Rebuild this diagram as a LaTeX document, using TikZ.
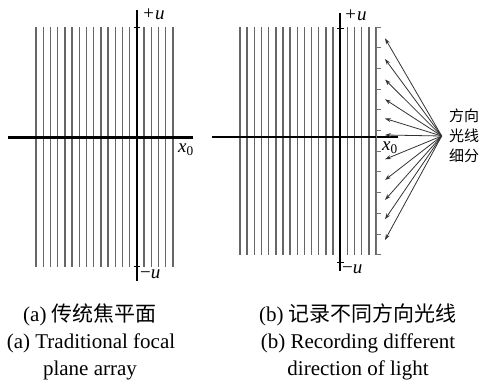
\documentclass[tikz,border=0pt]{standalone}
\usepackage{fontspec}
\setmainfont{Liberation Serif}
\newfontfamily\cjk{Noto Sans CJK SC}
\usetikzlibrary{arrows.meta}
\begin{document}
\begin{tikzpicture}[x=1pt,y=-1pt,
  gridline/.style={draw=black!60,line width=1.4pt},
  axisline/.style={draw=black,line width=2.1pt},
  tickline/.style={draw=black,line width=1pt},
  brk/.style={draw=black!55,line width=0.9pt},
  ray/.style={draw=black!80,line width=0.8pt,-{Stealth[length=6pt,width=4pt]}},
  axlabel/.style={font=\fontsize{19}{19}\selectfont\itshape,inner sep=0pt},
  captext/.style={font=\fontsize{21}{21}\selectfont,inner sep=0pt,anchor=center},
  side/.style={font=\fontsize{15}{20}\selectfont\cjk,inner sep=0pt,align=left}]
\useasboundingbox (0,0) rectangle (483,388);
% ---------- panel (a)
\foreach \k in {0,...,13,15,16,17,18,19}
  \draw[gridline] (36+7.2*\k,27) -- (36+7.2*\k,267);
\coordinate (aL) at (8,137.5);
\coordinate (aR) at (193,137.5);
\coordinate (aT) at (136.8,10);
\coordinate (aB) at (136.8,281);
\draw[axisline] (aL) -- (aR);
\draw[axisline] (aT) -- (aB);
\coordinate (at1) at (133.5,27); \coordinate (at2) at (140.1,27);
\coordinate (ab1) at (133.5,266); \coordinate (ab2) at (140.1,266);
\draw[tickline] (at1) -- (at2);
\draw[tickline] (ab1) -- (ab2);
\node[axlabel,anchor=west] (apu) at (142,14) {+u};
\node[axlabel,anchor=west] (amu) at (140,274) {\textup{−}u};
\node[axlabel,anchor=west] (ax0) at (178,150) {x\textsubscript{\upshape 0}};
% ---------- panel (b)
\foreach \k in {0,...,13,15,16,17,18,19}
  \draw[gridline] (240+7.16*\k,27) -- (240+7.16*\k,255);
\coordinate (bL) at (212,137);
\coordinate (bR) at (398,137);
\coordinate (bT) at (340.3,13);
\coordinate (bB) at (340.3,271);
\draw[axisline] (bL) -- (bR);
\draw[axisline] (bT) -- (bB);
\coordinate (bt1) at (337,28); \coordinate (bt2) at (343.6,28);
\coordinate (bb1) at (337,262); \coordinate (bb2) at (343.6,262);
\draw[tickline] (bt1) -- (bt2);
\draw[tickline] (bb1) -- (bb2);
\node[axlabel,anchor=west] (bpu) at (344,15) {+u};
\node[axlabel,anchor=west] (bmu) at (342,269) {\textup{−}u};
\node[axlabel,anchor=west] (bx0) at (382,148) {x\textsubscript{\upshape 0}};
% bracket with ticks
\coordinate (brT) at (376,27);
\coordinate (brB) at (376,254.7);
\draw[brk] (brT) -- (brB);
\foreach \j in {0,...,11}
  \draw[brk] (376,27+20.7*\j) -- (381,27+20.7*\j);
% rays
\coordinate (hub) at (441.7,136);
\foreach \yy [count=\i] in {38.3,59,79.5,99.3,118.5,135,159.3,180,200,219.3,240}
  \coordinate (t\i) at (385,\yy);
\foreach \i in {1,...,11}
  \draw[ray] (hub) -- (t\i);
\node[side,anchor=west] (dir) at (449,136) {方向\\光线\\细分};
% ---------- captions
\node[captext] (ca1) at (90,315) {(a) {\cjk 传统焦平面}};
\node[captext] (ca2) at (91,343) {(a) Traditional focal};
\node[captext] (ca3) at (90,370) {plane array};
\node[captext] (cb1) at (358,315) {(b) {\cjk 记录不同方向光线}};
\node[captext] (cb2) at (358,343) {(b) Recording different};
\node[captext] (cb3) at (358,370) {direction of light};
\end{tikzpicture}
\end{document}
